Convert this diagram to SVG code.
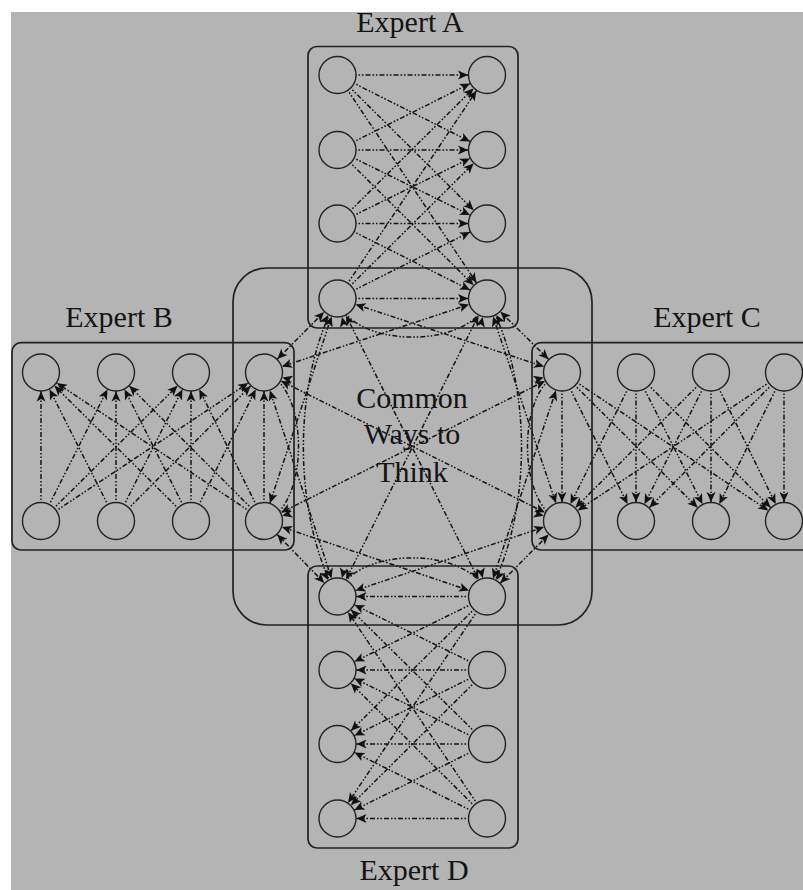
<svg xmlns="http://www.w3.org/2000/svg" width="803" height="890" viewBox="0 0 803 890">
<style>
.e{fill:none;stroke:#141414;stroke-width:1.5;stroke-dasharray:5 2 1.6 1.8 1.6 2}
.one{marker-end:url(#ah)}
.two{marker-start:url(#ah);marker-end:url(#ah)}
.box{fill:none;stroke:#222;stroke-width:1.7}
.n{fill:#b4b4b4;stroke:#222;stroke-width:1.4}
.lbl{font-family:"Liberation Serif",serif;font-size:30px;fill:#141414;text-anchor:middle}
</style>
<defs>
<marker id="ah" viewBox="-30 -10 60 20" markerWidth="60" markerHeight="20" refX="19" refY="0" markerUnits="userSpaceOnUse" orient="auto-start-reverse" overflow="visible">
<path d="M0,0 L-10,-4.5 L-7.5,0 L-10,4.5 Z" fill="#111"/>
</marker>
</defs>
<rect x="0" y="0" width="803" height="890" fill="#fff"/>
<rect x="11" y="12" width="792" height="878" fill="#b4b4b4"/>

<g id="connectors">
<!-- Expert A: left to right -->
<path class="e one" d="M337.5,75 L487,75"/><path class="e one" d="M337.5,75 L487,150"/><path class="e one" d="M337.5,75 L487,223.5"/><path class="e one" d="M337.5,75 L487,298.5"/>
<path class="e one" d="M337.5,150 L487,75"/><path class="e one" d="M337.5,150 L487,150"/><path class="e one" d="M337.5,150 L487,223.5"/><path class="e one" d="M337.5,150 L487,298.5"/>
<path class="e one" d="M337.5,223.5 L487,75"/><path class="e one" d="M337.5,223.5 L487,150"/><path class="e one" d="M337.5,223.5 L487,223.5"/><path class="e one" d="M337.5,223.5 L487,298.5"/>
<path class="e one" d="M337.5,298.5 L487,75"/><path class="e one" d="M337.5,298.5 L487,150"/><path class="e one" d="M337.5,298.5 L487,223.5"/><path class="e one" d="M337.5,298.5 L487,298.5"/>
<!-- Expert D: right to left -->
<path class="e one" d="M487,596.5 L337.5,596.5"/><path class="e one" d="M487,596.5 L337.5,670"/><path class="e one" d="M487,596.5 L337.5,744"/><path class="e one" d="M487,596.5 L337.5,818.5"/>
<path class="e one" d="M487,670 L337.5,596.5"/><path class="e one" d="M487,670 L337.5,670"/><path class="e one" d="M487,670 L337.5,744"/><path class="e one" d="M487,670 L337.5,818.5"/>
<path class="e one" d="M487,744 L337.5,596.5"/><path class="e one" d="M487,744 L337.5,670"/><path class="e one" d="M487,744 L337.5,744"/><path class="e one" d="M487,744 L337.5,818.5"/>
<path class="e one" d="M487,818.5 L337.5,596.5"/><path class="e one" d="M487,818.5 L337.5,670"/><path class="e one" d="M487,818.5 L337.5,744"/><path class="e one" d="M487,818.5 L337.5,818.5"/>
<!-- Expert B: bottom to top -->
<path class="e one" d="M41,521 L41,372.5"/><path class="e one" d="M41,521 L116,372.5"/><path class="e one" d="M41,521 L191,372.5"/><path class="e one" d="M41,521 L264,372.5"/>
<path class="e one" d="M116,521 L41,372.5"/><path class="e one" d="M116,521 L116,372.5"/><path class="e one" d="M116,521 L191,372.5"/><path class="e one" d="M116,521 L264,372.5"/>
<path class="e one" d="M191,521 L41,372.5"/><path class="e one" d="M191,521 L116,372.5"/><path class="e one" d="M191,521 L191,372.5"/><path class="e one" d="M191,521 L264,372.5"/>
<path class="e one" d="M264,521 L41,372.5"/><path class="e one" d="M264,521 L116,372.5"/><path class="e one" d="M264,521 L191,372.5"/><path class="e one" d="M264,521 L264,372.5"/>
<!-- Expert C: top to bottom -->
<path class="e one" d="M562,372.5 L562,521"/><path class="e one" d="M562,372.5 L636,521"/><path class="e one" d="M562,372.5 L711,521"/><path class="e one" d="M562,372.5 L784,521"/>
<path class="e one" d="M636,372.5 L562,521"/><path class="e one" d="M636,372.5 L636,521"/><path class="e one" d="M636,372.5 L711,521"/><path class="e one" d="M636,372.5 L784,521"/>
<path class="e one" d="M711,372.5 L562,521"/><path class="e one" d="M711,372.5 L636,521"/><path class="e one" d="M711,372.5 L711,521"/><path class="e one" d="M711,372.5 L784,521"/>
<path class="e one" d="M784,372.5 L562,521"/><path class="e one" d="M784,372.5 L636,521"/><path class="e one" d="M784,372.5 L711,521"/><path class="e one" d="M784,372.5 L784,521"/>
<!-- Common ways to think: shared links -->
<path class="e two" d="M337.5,298.5 C350,350 475,350 487,298.5"/>
<path class="e two" d="M337.5,596.5 C350,545 475,545 487,596.5"/>
<path class="e two" d="M264,372.5 C310,385 310,508 264,521"/>
<path class="e two" d="M562,372.5 C516,385 516,508 562,521"/>
<path class="e two" d="M337.5,298.5 C292,380 292,515 337.5,596.5"/>
<path class="e two" d="M487,298.5 C533,380 533,515 487,596.5"/>
<path class="e two" d="M337.5,298.5 L562,372.5"/>
<path class="e two" d="M337.5,298.5 L487,596.5"/>
<path class="e two" d="M337.5,298.5 L264,521"/>
<path class="e two" d="M337.5,298.5 L264,372.5"/>
<path class="e two" d="M487,298.5 L562,372.5"/>
<path class="e two" d="M487,298.5 L562,521"/>
<path class="e two" d="M487,298.5 L337.5,596.5"/>
<path class="e two" d="M487,298.5 L264,372.5"/>
<path class="e two" d="M562,372.5 L487,596.5"/>
<path class="e two" d="M562,372.5 L264,521"/>
<path class="e two" d="M562,521 L487,596.5"/>
<path class="e two" d="M562,521 L337.5,596.5"/>
<path class="e two" d="M562,521 L264,372.5"/>
<path class="e two" d="M487,596.5 L264,521"/>
<path class="e two" d="M337.5,596.5 L264,521"/>
<path class="e two" d="M337.5,596.5 L264,372.5"/>
</g>

<g id="common-ways-to-think">
<rect class="box" x="233" y="268" width="359" height="357" rx="34"/>
<text class="lbl" x="412" y="408">Common</text>
<text class="lbl" x="412" y="444">Ways to</text>
<text class="lbl" x="412" y="482">Think</text>
</g>

<g id="expert-a">
<rect class="box" x="308" y="46.5" width="210" height="281.5" rx="9"/>
<text class="lbl" x="410" y="32">Expert A</text>
<circle class="n" cx="337.5" cy="75" r="18.5"/><circle class="n" cx="337.5" cy="150" r="18.5"/><circle class="n" cx="337.5" cy="223.5" r="18.5"/><circle class="n" cx="337.5" cy="298.5" r="18.5"/>
<circle class="n" cx="487" cy="75" r="18.5"/><circle class="n" cx="487" cy="150" r="18.5"/><circle class="n" cx="487" cy="223.5" r="18.5"/><circle class="n" cx="487" cy="298.5" r="18.5"/>
</g>

<g id="expert-b">
<rect class="box" x="12" y="342.7" width="282" height="207.3" rx="9"/>
<text class="lbl" x="119" y="327">Expert B</text>
<circle class="n" cx="41" cy="372.5" r="18.5"/><circle class="n" cx="116" cy="372.5" r="18.5"/><circle class="n" cx="191" cy="372.5" r="18.5"/><circle class="n" cx="264" cy="372.5" r="18.5"/>
<circle class="n" cx="41" cy="521" r="18.5"/><circle class="n" cx="116" cy="521" r="18.5"/><circle class="n" cx="191" cy="521" r="18.5"/><circle class="n" cx="264" cy="521" r="18.5"/>
</g>

<g id="expert-c">
<rect class="box" x="532" y="342.7" width="290" height="207.3" rx="9"/>
<text class="lbl" x="707" y="327">Expert C</text>
<circle class="n" cx="562" cy="372.5" r="18.5"/><circle class="n" cx="636" cy="372.5" r="18.5"/><circle class="n" cx="711" cy="372.5" r="18.5"/><circle class="n" cx="784" cy="372.5" r="18.5"/>
<circle class="n" cx="562" cy="521" r="18.5"/><circle class="n" cx="636" cy="521" r="18.5"/><circle class="n" cx="711" cy="521" r="18.5"/><circle class="n" cx="784" cy="521" r="18.5"/>
</g>

<g id="expert-d">
<rect class="box" x="308" y="566" width="210" height="282" rx="9"/>
<text class="lbl" x="414" y="880">Expert D</text>
<circle class="n" cx="337.5" cy="596.5" r="18.5"/><circle class="n" cx="337.5" cy="670" r="18.5"/><circle class="n" cx="337.5" cy="744" r="18.5"/><circle class="n" cx="337.5" cy="818.5" r="18.5"/>
<circle class="n" cx="487" cy="596.5" r="18.5"/><circle class="n" cx="487" cy="670" r="18.5"/><circle class="n" cx="487" cy="744" r="18.5"/><circle class="n" cx="487" cy="818.5" r="18.5"/>
</g>
</svg>
